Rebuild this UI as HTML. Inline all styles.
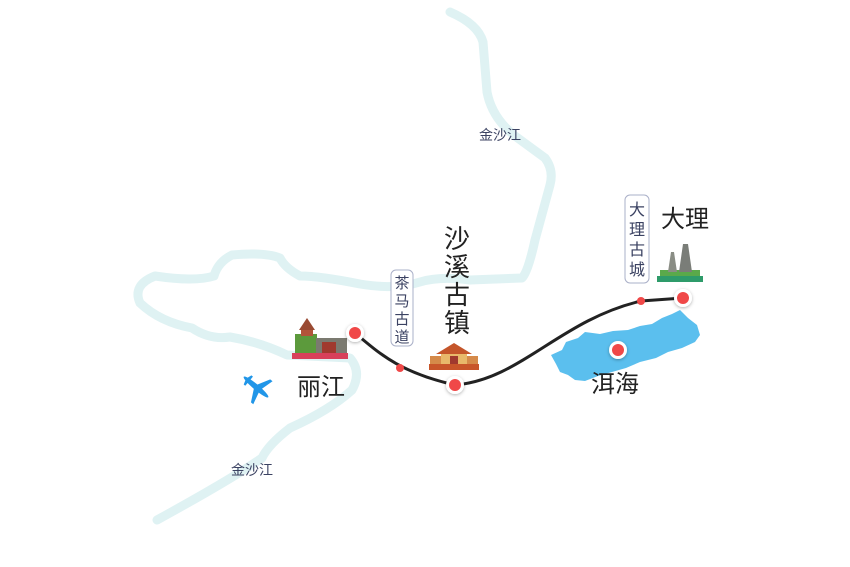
<!DOCTYPE html>
<html><head><meta charset="utf-8"><style>
html,body{margin:0;padding:0;background:#fff}
svg{display:block}
text{font-family:"Liberation Sans","Noto Sans CJK SC",sans-serif}
</style></head><body>
<svg width="850" height="567" viewBox="0 0 850 567" xmlns="http://www.w3.org/2000/svg">
<defs>
<filter id="sh" x="-50%" y="-50%" width="200%" height="200%"><feDropShadow dx="0" dy="1" stdDeviation="1.5" flood-color="#000" flood-opacity="0.3"/></filter>
</defs>
<path d="M450 12 Q478 24 483 42 L487 92 Q492 118 515 136 L545 158 Q554 170 550 185 L535 240 Q528 272 522 278 L470 280 Q440 276 420 282 Q395 290 360 284 Q320 276 300 276 Q285 268 280 258 Q265 252 232 255 Q218 262 214 276 Q195 282 155 276 Q132 285 140 303 Q160 322 192 328 Q210 340 230 337 Q260 342 287 355 L350 358 Q362 372 352 390 Q330 410 290 428 Q268 445 262 458 Q230 480 157 520" fill="none" stroke="#dff2f3" stroke-width="9" stroke-linecap="round" stroke-linejoin="round"/>
<path d="M551 355 L562 350 L566 342 L578 338 L585 332 L600 334 L613 331 L628 330 L640 326 L652 324 L662 318 L672 314 L680 310 L688 318 L697 325 L700 335 L695 342 L682 348 L668 352 L656 358 L640 362 L626 368 L612 372 L598 376 L585 381 L575 380 L568 375 L560 372 L556 364 Z" fill="#5bbfee"/>
<path d="M355 333 C378 352 398 372 455 385 C520 380 560 320 641 301 L683 298" fill="none" stroke="#222" stroke-width="3"/>
<!-- 丽江 building -->
<g>
<rect x="292" y="353" width="56" height="6" fill="#d8405a"/>
<rect x="295" y="334" width="22" height="19" fill="#5c9a3c"/>
<rect x="301" y="328" width="12" height="8" fill="#b2553a"/>
<polygon points="299,330 307,318 315,330" fill="#9a4a32"/>
<rect x="316" y="338" width="31" height="15" fill="#7b7a70"/>
<rect x="322" y="342" width="14" height="11" fill="#a0392e"/>
</g>
<!-- 沙溪 building -->
<g>
<rect x="429" y="364" width="50" height="6" fill="#c8552a"/>
<polygon points="436,354 454,343 472,354" fill="#c4552a"/>
<rect x="441" y="354" width="26" height="10" fill="#e8b86a"/>
<rect x="430" y="356" width="11" height="8" fill="#d58a4a"/>
<rect x="467" y="356" width="11" height="8" fill="#d58a4a"/>
<rect x="450" y="356" width="8" height="8" fill="#a0392e"/>
</g>
<!-- 大理 pagodas -->
<g>
<rect x="657" y="276" width="46" height="6" fill="#2e9b6a"/>
<rect x="660" y="270" width="40" height="6" fill="#5aa94a"/>
<polygon points="668,272 671,252 674,252 677,272" fill="#8a8d85"/>
<polygon points="679,272 683,244 688,244 692,272" fill="#7a7d78"/>
</g>
<g transform="translate(256,387) rotate(40)" fill="#2196e8">
<ellipse cx="0" cy="0" rx="16" ry="2.8"/>
<polygon points="-2,0 6,-15 9,-15 5,0"/>
<polygon points="-2,0 6,15 9,15 5,0"/>
<polygon points="-13,0 -11,-6 -9,-6 -9,0"/>
<polygon points="-13,0 -11,6 -9,6 -9,0"/>
</g>
<g filter="url(#sh)" fill="#fff">
<circle cx="355" cy="333" r="9"/><circle cx="455" cy="385" r="9"/>
<circle cx="683" cy="298" r="9"/><circle cx="618" cy="350" r="9"/>
</g>
<g fill="#f04848">
<circle cx="355" cy="333" r="6"/><circle cx="455" cy="385" r="6"/>
<circle cx="683" cy="298" r="6"/><circle cx="618" cy="350" r="6"/>
<circle cx="400" cy="368" r="4"/><circle cx="641" cy="301" r="4"/>
</g>
<rect x="391" y="270" width="22" height="76" rx="5" fill="#fff" stroke="#aab0c8" stroke-width="1"/>
<g font-size="15" fill="#3b4262" text-anchor="middle">
<text x="402" y="288">茶</text><text x="402" y="306">马</text>
<text x="402" y="324">古</text><text x="402" y="342">道</text>
</g>
<rect x="625" y="195" width="24" height="88" rx="5" fill="#fff" stroke="#aab0c8" stroke-width="1"/>
<g font-size="16" fill="#3b4262" text-anchor="middle">
<text x="637" y="215">大</text><text x="637" y="235">理</text>
<text x="637" y="255">古</text><text x="637" y="275">城</text>
</g>
<text x="500" y="140" font-size="14" fill="#3b4262" text-anchor="middle">金沙江</text>
<text x="252" y="475" font-size="14" fill="#3b4262" text-anchor="middle">金沙江</text>
<g font-size="26" fill="#222" text-anchor="middle">
<text x="457" y="248">沙</text><text x="457" y="276">溪</text>
<text x="457" y="304">古</text><text x="457" y="332">镇</text>
</g>
<text x="321" y="395" font-size="24" fill="#222" text-anchor="middle">丽江</text>
<text x="685" y="227" font-size="24" fill="#222" text-anchor="middle">大理</text>
<text x="615" y="392" font-size="24" fill="#222" text-anchor="middle">洱海</text>
</svg>
</body></html>
